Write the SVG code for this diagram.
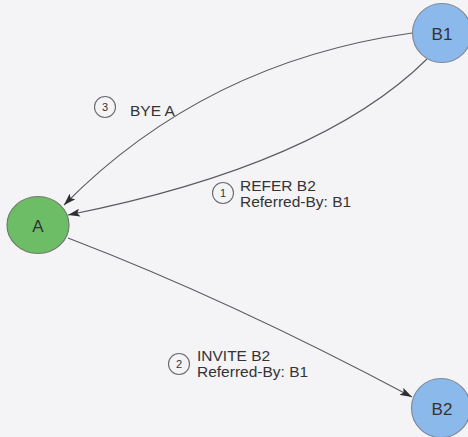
<svg xmlns="http://www.w3.org/2000/svg" width="468" height="437" viewBox="0 0 468 437">
  <style>
    .node-b { fill: #8bb9ec; stroke: #7f8a99; stroke-width: 1.2; }
    .node-a { fill: #6dbd67; stroke: #6f7a6f; stroke-width: 1.2; }
    .node-label { font-family: "Liberation Sans", Arial, sans-serif; font-size: 17px; fill: #333; text-anchor: middle; }
    .edge { fill: none; stroke: #5a5a62; stroke-width: 1.1; }
    .msg { font-family: "Liberation Sans", Arial, sans-serif; font-size: 15.5px; fill: #333338; }
    .step { fill: none; stroke: #6a6a70; stroke-width: 1.1; }
    .step-num { font-family: "Liberation Sans", Arial, sans-serif; font-size: 11px; fill: #333; text-anchor: middle; }
  </style>
  <defs>
    <marker id="arrow" viewBox="0 0 12 8" refX="12" refY="4" markerWidth="12" markerHeight="8" markerUnits="userSpaceOnUse" orient="auto">
      <path d="M0,0 L12,4 L0,8 L2.5,4 Z" fill="#2e2e33"/>
    </marker>
  </defs>

  <rect x="0" y="0" width="468" height="437" fill="#f4f4f6"/>

  <!-- connectors -->
  <g id="connectors">
    <path class="edge" d="M412,33 Q205,62 64,205" marker-end="url(#arrow)"/>
    <path class="edge" d="M427,59 Q320,165 68,215" marker-end="url(#arrow)"/>
    <path class="edge" d="M68,238 Q230,300 412,397" marker-end="url(#arrow)"/>

    <g id="label-bye">
      <circle class="step" cx="105" cy="107" r="10.5"/>
      <text class="step-num" x="105" y="111">3</text>
      <text class="msg" x="130" y="116">BYE A</text>
    </g>
    <g id="label-refer">
      <circle class="step" cx="223" cy="193" r="10.5"/>
      <text class="step-num" x="223" y="197">1</text>
      <text class="msg" x="240" y="191">REFER B2</text>
      <text class="msg" x="240" y="207">Referred-By: B1</text>
    </g>
    <g id="label-invite">
      <circle class="step" cx="179" cy="364" r="10.5"/>
      <text class="step-num" x="179" y="368">2</text>
      <text class="msg" x="197" y="361">INVITE B2</text>
      <text class="msg" x="197" y="377">Referred-By: B1</text>
    </g>
  </g>

  <!-- nodes -->
  <g id="node-b1">
    <circle class="node-b" cx="442" cy="33" r="29.5"/>
    <text class="node-label" x="442" y="40">B1</text>
  </g>
  <g id="node-a">
    <ellipse class="node-a" cx="38" cy="225" rx="31" ry="28.5"/>
    <text class="node-label" x="38" y="232">A</text>
  </g>
  <g id="node-b2">
    <circle class="node-b" cx="441" cy="408" r="29.5" fill="#7fb0e8"/>
    <text class="node-label" x="442" y="415">B2</text>
  </g>
</svg>
